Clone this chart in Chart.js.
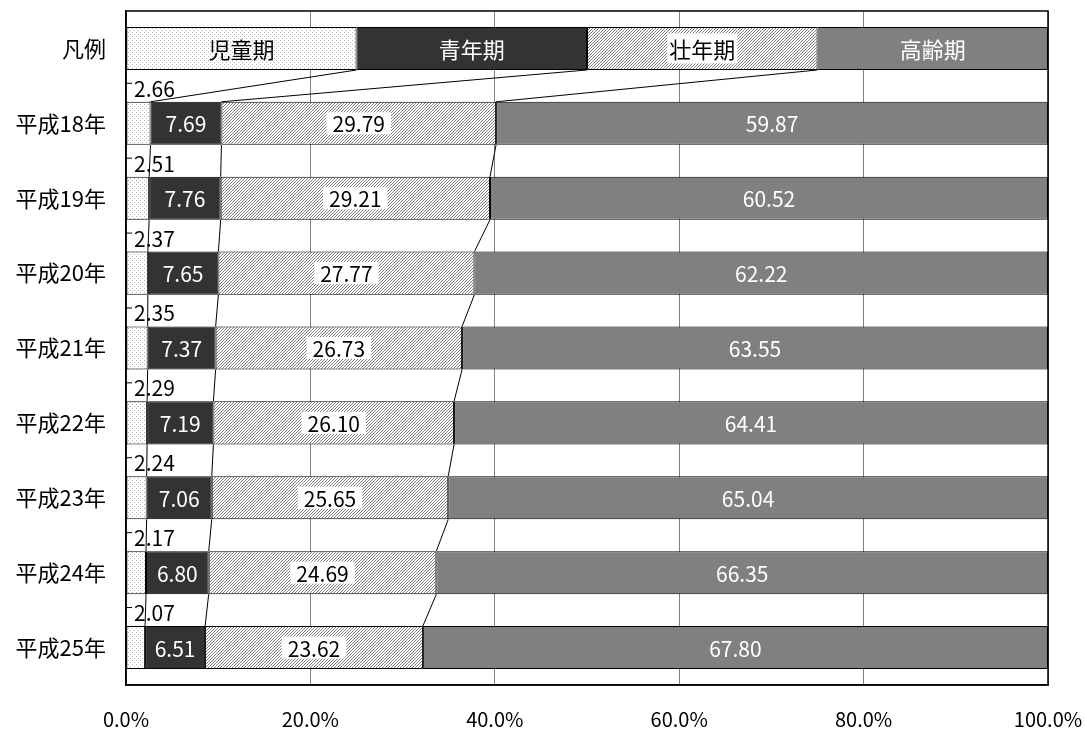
<!DOCTYPE html>
<html lang="ja">
<head>
<meta charset="utf-8">
<script src="https://cdn.jsdelivr.net/npm/chart.js@4.4.1/dist/chart.umd.min.js"></script>
<style>
  html, body { margin: 0; padding: 0; background: #fff; }
  #wrap { width: 1085px; height: 729px; }
</style>
</head>
<body>
<div id="wrap"><canvas id="chart"></canvas></div>
<script>
// ---- data ----
const categories = ['凡例', '平成18年', '平成19年', '平成20年', '平成21年', '平成22年', '平成23年', '平成24年', '平成25年'];
const seriesNames = ['児童期', '青年期', '壮年期', '高齢期'];
const legendRow = [25, 25, 25, 25];
const jidou  = [2.66, 2.51, 2.37, 2.35, 2.29, 2.24, 2.17, 2.07];
const seinen = [7.69, 7.76, 7.65, 7.37, 7.19, 7.06, 6.80, 6.51];
const sounen = [29.79, 29.21, 27.77, 26.73, 26.10, 25.65, 24.69, 23.62];
const kourei = [59.87, 60.52, 62.22, 63.55, 64.41, 65.04, 66.35, 67.80];
const xTicks = [0, 20, 40, 60, 80, 100];

const FONT = '"Noto Sans CJK JP", "Noto Sans", sans-serif';
Chart.defaults.font.family = FONT;

const canvas = document.getElementById('chart');
const ctx = canvas.getContext('2d');

// fill patterns (dots / diagonal hatch)
function makePattern(size, color, pixels) {
    const tile = document.createElement('canvas');
    tile.width = tile.height = size;
    const g = tile.getContext('2d');
    g.fillStyle = '#fff';
    g.fillRect(0, 0, size, size);
    g.fillStyle = color;
    pixels.forEach(([x, y]) => g.fillRect(x, y, 1, 1));
    return ctx.createPattern(tile, 'repeat');
}
const dots = makePattern(4, '#b4b4b4', [[0, 0], [2, 2]]);
const hatch = makePattern(3, '#7c7c7c', [[2, 0], [1, 1], [0, 2]]);

const fills = [dots, '#333333', hatch, '#808080'];
const seriesData = [jidou, seinen, sounen, kourei];

// ---- plugin: series lines, labels, frame ----
const extras = {
    id: 'extras',
    afterDatasetsDraw(chart) {
        const c = chart.ctx;
        const area = chart.chartArea;
        const metas = [0, 1, 2, 3].map(i => chart.getDatasetMeta(i));

        // series lines between bars
        c.save();
        c.strokeStyle = '#000';
        c.lineWidth = 1;
        for (let i = 0; i < 3; i++) {
            const bars = metas[i].data;
            for (let j = 0; j < bars.length - 1; j++) {
                const a = bars[j], b = bars[j + 1];
                c.beginPath();
                c.moveTo(a.x, a.y + a.height / 2);
                c.lineTo(b.x, b.y - b.height / 2);
                c.stroke();
            }
        }
        c.restore();

        // labels
        c.save();
        c.textBaseline = 'middle';
        metas.forEach((meta, i) => {
            meta.data.forEach((bar, j) => {
                const cx = (bar.x + bar.base) / 2;
                if (j === 0) {
                    c.font = '22px ' + FONT;
                    c.textAlign = 'center';
                    const txt = seriesNames[i];
                    if (i === 2) {
                        const w = c.measureText(txt).width;
                        c.fillStyle = '#fff';
                        c.fillRect(cx - w / 2 - 2, bar.y - 15, w + 4, 30);
                    }
                    c.fillStyle = (i === 1 || i === 3) ? '#fff' : '#000';
                    c.fillText(txt, cx, bar.y + 1);
                    return;
                }
                const txt = seriesData[i][j - 1].toFixed(2);
                c.font = '21px ' + FONT;
                if (i === 0) {
                    const top = bar.y - bar.height / 2;
                    c.strokeStyle = '#000';
                    c.lineWidth = 1;
                    c.beginPath();
                    c.moveTo(area.left, top - 18.5);
                    c.lineTo(area.left + 6, top - 18.5);
                    c.stroke();
                    c.textAlign = 'left';
                    c.fillStyle = '#000';
                    c.fillText(txt, area.left + 8, top - 13);
                } else {
                    c.textAlign = 'center';
                    if (i === 2) {
                        const w = c.measureText(txt).width;
                        c.fillStyle = '#fff';
                        c.fillRect(cx - w / 2 - 6, bar.y - 11, w + 12, 22);
                    }
                    c.fillStyle = i === 2 ? '#000' : '#fff';
                    c.fillText(txt, cx, bar.y + 1);
                }
            });
        });
        c.restore();

        // plot frame
        c.save();
        c.strokeStyle = '#000';
        c.lineWidth = 1.5;
        c.strokeRect(area.left, area.top, area.right - area.left, area.bottom - area.top);
        c.restore();
    }
};

new Chart(canvas, {
    type: 'bar',
    data: {
        labels: categories,
        datasets: seriesNames.map((name, i) => ({
            label: name,
            data: [legendRow[i], ...seriesData[i]],
            backgroundColor: fills[i],
            borderColor: '#000',
            borderWidth: 1,
            borderSkipped: false,
            categoryPercentage: 1,
            barPercentage: 0.575
        }))
    },
    options: {
        indexAxis: 'y',
        responsive: true,
        maintainAspectRatio: false,
        animation: false,
        layout: { padding: { top: 11, right: 37, left: 0, bottom: 0 } },
        plugins: {
            legend: { display: false },
            tooltip: { enabled: false }
        },
        scales: {
            x: {
                stacked: true,
                min: 0,
                max: 100,
                afterBuildTicks: axis => { axis.ticks = xTicks.map(v => ({ value: v })); },
                afterFit: axis => {
                    axis.height = 44;
                    axis.paddingLeft = 0;
                    axis.paddingRight = 0;
                },
                grid: { color: '#808080', lineWidth: 1, drawTicks: false },
                border: { color: '#000', width: 1.5 },
                ticks: {
                    padding: 22,
                    color: '#000',
                    font: { size: 20 },
                    maxRotation: 0,
                    callback: v => v.toFixed(1) + '%'
                }
            },
            y: {
                stacked: true,
                afterFit: axis => {
                    axis.width = 126;
                    axis.paddingTop = 0;
                    axis.paddingBottom = 0;
                },
                grid: { display: false, drawTicks: false },
                border: { color: '#000', width: 1.5 },
                ticks: {
                    padding: 20,
                    color: '#000',
                    font: { size: 22 }
                }
            }
        }
    },
    plugins: [extras]
});
</script>
</body>
</html>
